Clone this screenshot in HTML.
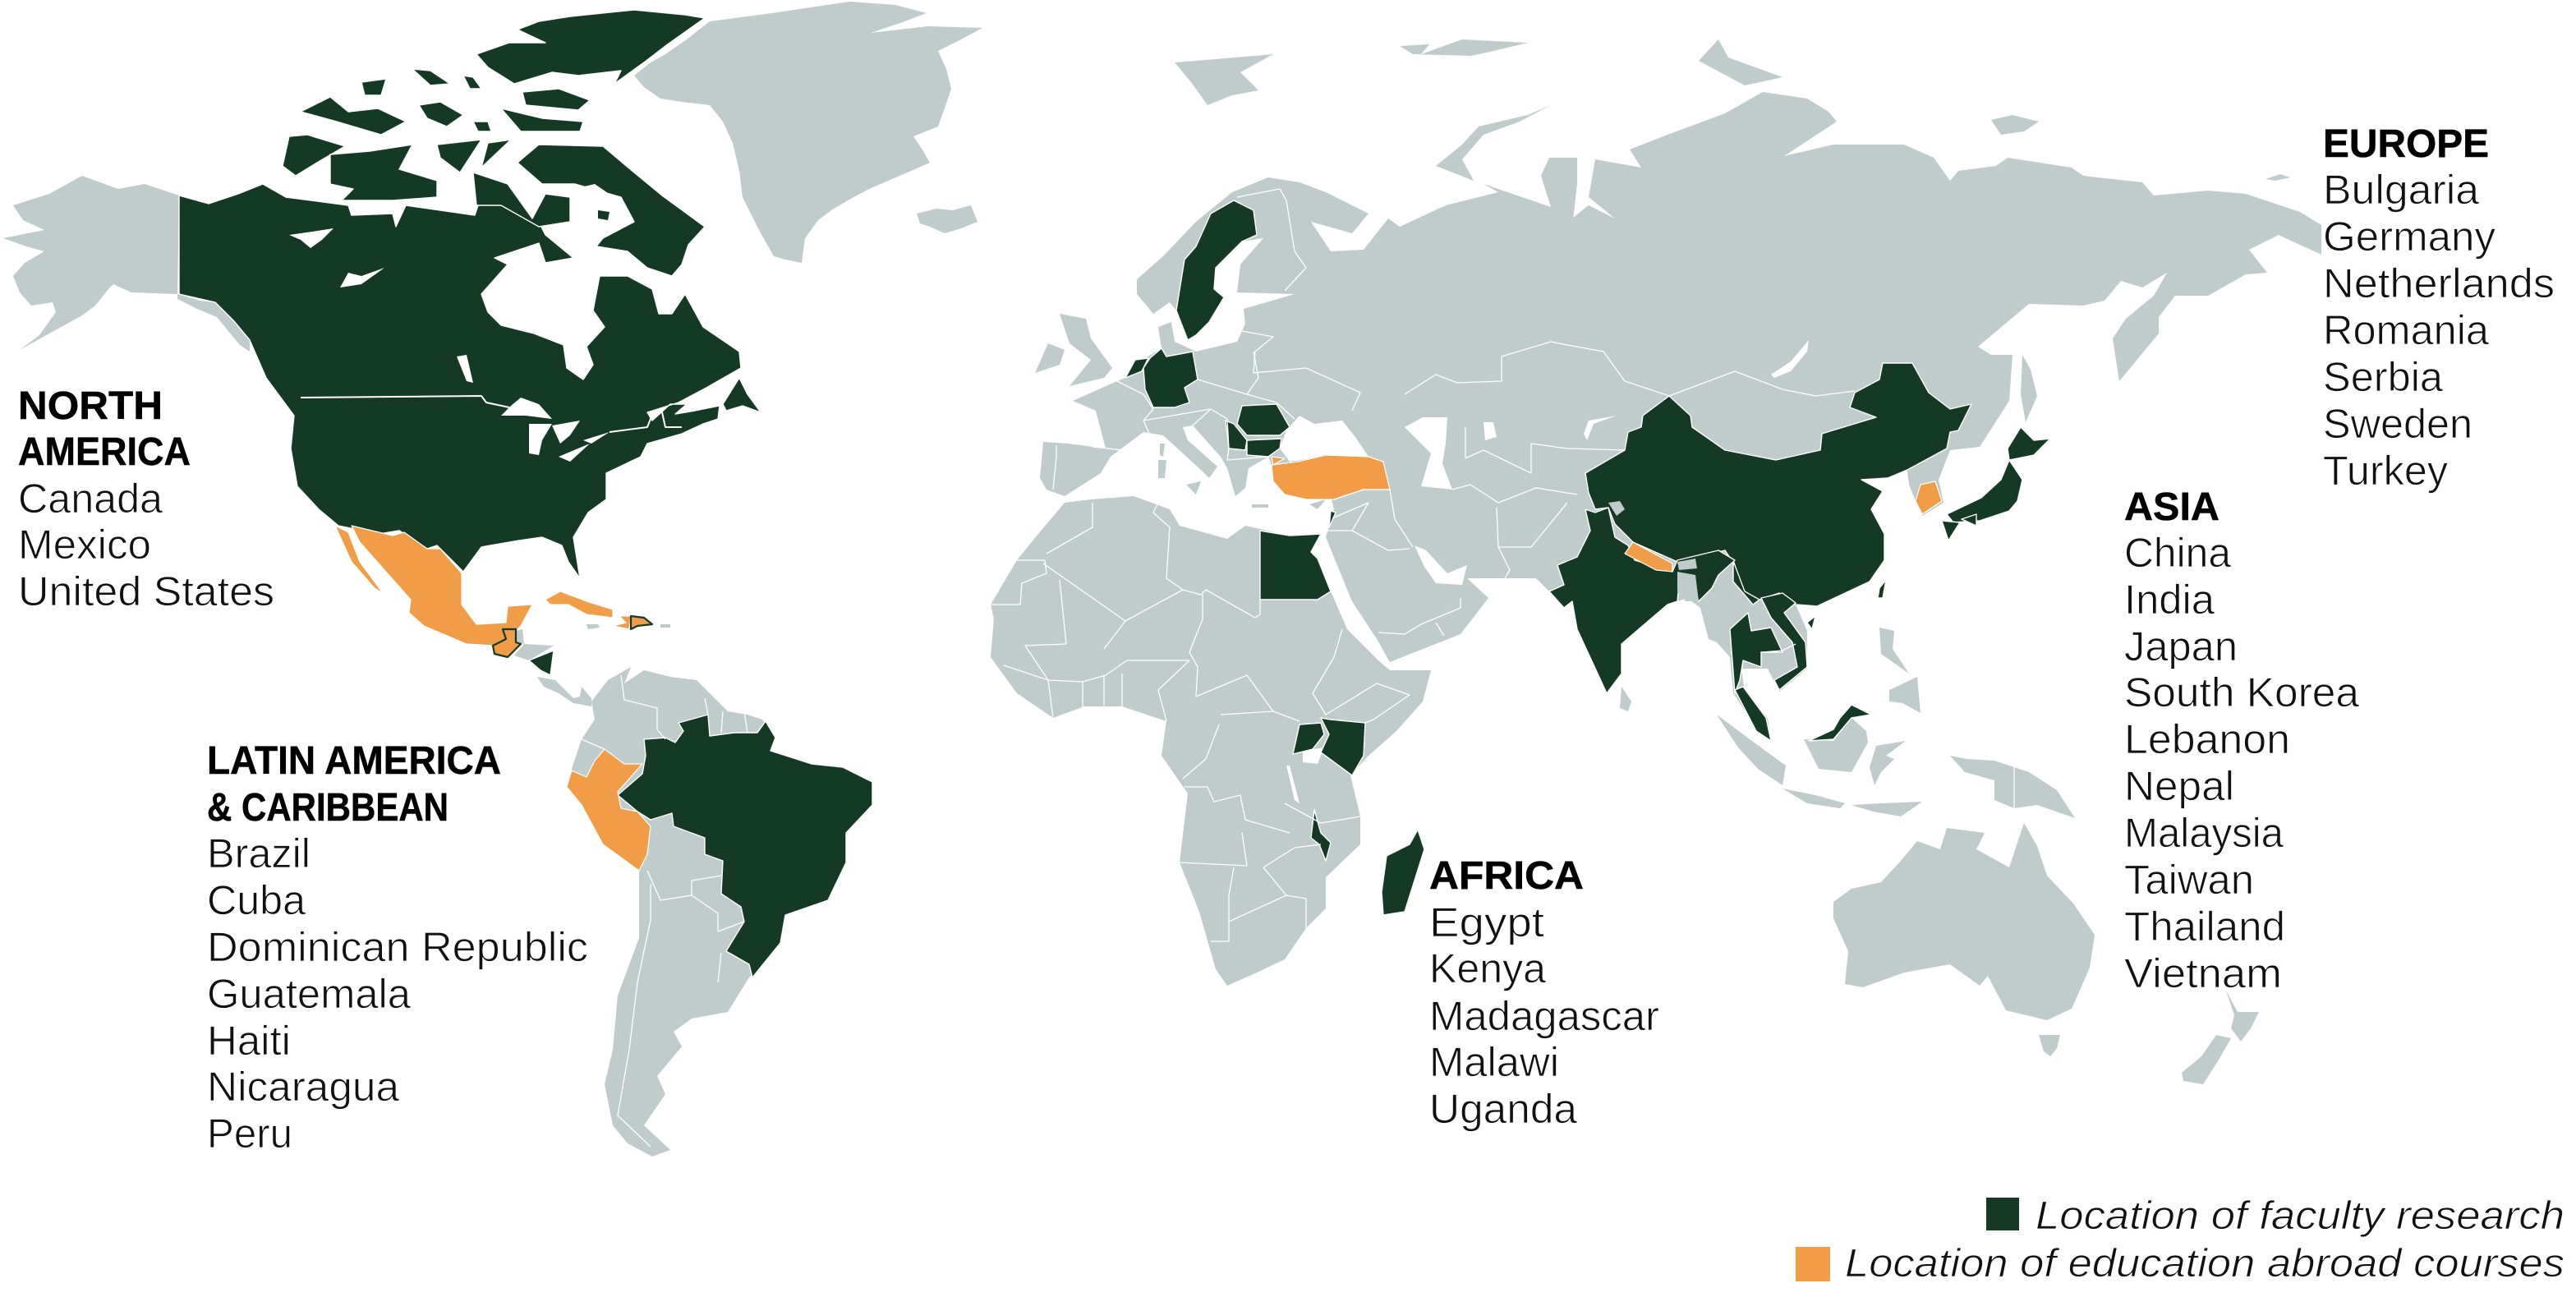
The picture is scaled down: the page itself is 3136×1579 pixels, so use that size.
<!DOCTYPE html>
<html lang="en">
<head>
<meta charset="utf-8">
<title>Faculty research and education abroad locations</title>
<style>
html,body{margin:0;padding:0;background:#fff;width:3136px;height:1579px;overflow:hidden}
svg{display:block}
.g polygon,.g path{fill:#bfcccb}
.w polygon{fill:#fff}
.d polygon{fill:#143a25;stroke:#fff;stroke-width:.7;stroke-linejoin:round}
.o polygon{fill:#f19d47;stroke:#fff;stroke-width:.6;stroke-linejoin:round}
.b polyline{fill:none;stroke:#fff;stroke-width:.65;stroke-linejoin:round}
text{font-family:"Liberation Sans",sans-serif;font-size:25px;fill:#111;stroke:#fff;stroke-width:.42px}
text.h{font-weight:bold;fill:#000;stroke:#000;stroke-width:.25px;font-size:24px}
text.l{font-style:italic;font-size:24px}
</style>
</head>
<body>
<svg xmlns="http://www.w3.org/2000/svg" width="3136" height="1579" viewBox="0 0 1568 789.5">
<rect width="1568" height="789.5" fill="#fff"/>

<g class="g">
<polygon points="109,119 88,112 72,115 50,107 30,118 8,125 14,134 27,140 2,145 16,150 27,153 15,160 8,168 12,178 19,186 32,184 34,190 24,204 12,213 30,203 50,192 58,186 66,176 69,173 80,178 108,179 122,183 131,184 142,195 152,207 152,214 146,210 132,193 120,188 108,182"/>
<polygon points="432,13 470,8 517,1 545,3 564,8 548,14 530,20 565,16 598,17 585,24 571,31 576,42 579,54 575,66 571,77 556,83 562,92 566,99 550,106 529,115 516,122 506,128 498,134 490,145 488,160 478,158 471,156 462,140 452,120 450,104 446,87 440,74 432,64 415,62 402,60 392,53 386,46 396,38 405,33 418,24"/>
<polygon points="558,130 570,127 580,128 591,125 595,135 585,139 575,142 566,138 560,136"/>
<polygon points="360,427 370,414 384,406 380,416 392,408 408,412 424,414 434,424 443,433 455,435 464,438 472,449 469,457 494,465 513,467 531,476 531,490 515,507 515,525 504,548 478,557 475,574 456,595 443,616 421,620 410,628 415,637 400,655 405,666 392,685 408,700 397,704 382,696 373,685 368,660 373,639 376,606 389,571 389,528 367,514 354,490 345,479 348,468 354,450 362,438"/>
<polygon points="313,399 319,392 314,391 314,384 318,383 319,392 337,393 322,402"/>
<polygon points="327,412 338,414 349,425 353,424 354,418 360,425 360,430 349,428 340,422 331,418"/>
<polygon points="357,380 364,380 365,382 358,383"/>
<polygon points="402,380 408,380 408,382 402,382"/>
<polygon points="633,291 635,269 650,270 673,273 667,250 653,244 680,232 685,230 697,218 707,212 705,199 713,196 715,208 728,214 753,208 758,197 757,188 788,179 753,178 755,161 769,145 756,147 740,163 739,176 745,181 736,196 728,204 723,207 716,189 712,184 702,191 692,179 692,170 708,156 728,135 750,117 772,108 791,111 807,117 833,130 823,142 798,135 810,153 830,152 845,133 852,138 880,125 912,117 903,112 944,126 938,107 943,96 960,96 960,112 957,138 948,140 967,125 983,133 967,120 971,97 999,102 992,91 1015,82 1050,69 1073,56 1100,60 1113,68 1118,74 1086,95 1116,88 1159,88 1177,96 1187,110 1192,104 1215,101 1222,96 1261,102 1268,107 1304,111 1311,119 1344,116 1367,118 1400,129 1413,137 1413,155 1387,143 1369,152 1380,166 1367,167 1344,180 1324,180 1314,193 1314,203 1290,232 1286,206 1294,194 1311,180 1319,166 1304,175 1291,171 1281,183 1268,186 1235,185 1204,211 1212,216 1225,216 1223,244 1205,272 1187,274 1180,292 1183,306 1170,314 1166,305 1162,295 1161,287 1149,282 1133,292 1146,299 1139,310 1147,325 1147,341 1138,354 1106,369 1093,368 1100,384 1100,394 1100,407 1083,421 1076,407 1066,407 1060,407 1062,421 1076,437 1078,451 1065,437 1055,422 1053,400 1045,391 1040,389 1035,370 1027,364 1021,366 1015,368 987,392 987,410 978,422 960,383 957,366 952,370 943,360 935,352 893,352 906,364 889,386 846,403 838,389 823,366 807,327 812,310 810,302 782,301 774,283 772,278 760,285 758,297 752,302 747,285 743,278 726,259 720,260 723,268 741,284 736,291 732,287 708,265 696,263 676,278 670,288 648,302 637,298"/>
<polygon points="648,306 664,304 690,302 712,310 718,320 747,328 758,320 785,326 804,325 798,336 810,360 820,383 839,402 846,408 871,408 866,427 850,445 833,460 822,472 828,497 828,514 807,534 807,553 795,565 782,584 765,592 747,600 740,590 730,555 718,525 723,483 707,460 710,439 683,430 660,430 641,437 619,422 603,400 605,377 603,368 619,341 632,325"/>
<polygon points="645,191 661,194 664,206 677,224 672,230 651,235 664,219 651,209"/>
<polygon points="638,209 648,213 645,222 630,227"/>
<polygon points="722,295 731,293 728,301"/>
<polygon points="705,280 710,280 709,291 705,291"/>
<polygon points="706,270 709,270 708,278 706,277"/>
<polygon points="762,307 772,307 772,309 762,309"/>
<polygon points="797,307 807,304 802,310"/>
<polygon points="715,38 740,36 775,33 755,44 766,55 750,58 735,64 725,50"/>
<polygon points="852,28 870,27 865,33 890,24 930,26 905,32 895,34 860,33"/>
<polygon points="944,64 930,70 900,77 890,88 874,101 897,110 890,97 903,82 925,74"/>
<polygon points="1046,24 1052,35 1085,47 1062,52 1034,37"/>
<polygon points="1212,73 1225,70 1241,74 1232,80 1218,82"/>
<polygon points="1379,109 1388,106 1394,108 1385,110"/>
<polygon points="1231,216 1236,225 1240,241 1233,257 1230,240"/>
<polygon points="987,418 993,427 991,433 986,431"/>
<polygon points="1144,382 1153,384 1152,395 1162,410 1145,398"/>
<polygon points="1150,420 1167,412 1169,434 1158,428 1150,427"/>
<polygon points="1098,450 1116,451 1127,437 1136,445 1137,452 1127,470 1107,468"/>
<polygon points="1045,435 1065,450 1087,466 1085,478 1070,468 1058,455"/>
<polygon points="1085,480 1105,484 1123,489 1120,492 1100,489"/>
<polygon points="1127,490 1145,489 1170,488 1157,497 1140,494"/>
<polygon points="1138,467 1142,454 1160,451 1148,460 1153,462 1145,470 1141,478"/>
<polygon points="1187,460 1197,462 1214,463 1235,470 1252,481 1263,498 1240,490 1226,492 1214,487 1214,475 1196,470"/>
<polygon points="1116,549 1127,541 1145,537 1157,524 1167,512 1181,517 1185,504 1208,507 1203,517 1223,528 1232,501 1240,515 1246,533 1262,550 1275,569 1272,589 1261,614 1246,621 1221,615 1210,594 1205,600 1187,587 1159,592 1134,601 1123,599 1125,579 1116,559"/>
<polygon points="1241,630 1254,630 1252,638 1248,643 1244,640"/>
<polygon points="1355,603 1362,616 1375,616 1370,626 1364,634 1358,626 1360,618"/>
<polygon points="1349,630 1358,632 1350,646 1341,660 1329,658 1328,653 1340,643"/>
</g>

<g class="w">
<polygon points="779,273 783,262 791,253 800,258 817,256 825,266 833,278 815,278 804,278 785,281"/>
<polygon points="855,260 866,254 881,254 880,270 878,282 884,298 865,296 871,276"/>
<polygon points="903,257 909,257 911,266 904,268"/>
<polygon points="861,332 868,335 881,349 893,344 890,356 874,355 867,345"/>
<polygon points="1078,228 1090,220 1101,207 1100,214 1090,226 1080,230"/>
<polygon points="964,264 967,256 984,253 970,258 966,268"/>
<polygon points="793,457 806,455 802,465 793,464"/>
<polygon points="783,466 785,466 791,489 788,487"/>
</g>

<g class="d">
<polygon points="109,119 127,124 145,118 160,112 174,120 212,125 214,131 239,130 241,138 247,125 289,131 293,119 305,120 328,135 332,143 349,157 332,160 328,148 301,157 309,161 293,179 297,190 305,198 325,203 343,210 345,224 355,231 361,222 357,211 368,199 361,189 365,168 382,168 397,176 401,191 409,191 417,179 428,199 450,214 451,224 430,236 413,245 394,251 397,256 408,246 418,246 411,252 423,250 438,247 437,255 428,258 415,264 394,270 390,278 369,288 369,304 358,312 349,327 353,352 346,342 342,332 330,327 316,329 293,333 282,348 266,332 260,334 243,323 231,325 206,320 194,310 181,296 177,273 179,253 162,230 152,207 142,195 131,184 109,179"/>
<polygon points="440,246 450,230 455,240 463,251 452,247 442,250"/>
<polygon points="429,11 417,9 386,6 347,10 328,13 315,18 332,26 310,26 290,33 297,41 313,51 336,44 352,46 378,43 374,51 392,38 405,28"/>
<polygon points="318,56 340,54 359,61 352,67 320,64"/>
<polygon points="305,66 330,72 355,74 353,80 317,80"/>
<polygon points="183,68 201,59 212,68 230,66 247,74 232,82 205,74"/>
<polygon points="251,42 262,43 274,51 262,52"/>
<polygon points="282,46 288,47 293,54 286,54"/>
<polygon points="220,50 235,48 232,58 222,58"/>
<polygon points="255,64 268,62 282,70 272,77 260,72"/>
<polygon points="288,74 297,74 299,80 291,80"/>
<polygon points="176,83 187,82 210,89 193,99 180,107 172,101"/>
<polygon points="201,94 225,92 251,88 243,103 266,110 266,120 239,122 208,122 215,115 201,112"/>
<polygon points="266,88 293,85 280,105 268,96"/>
<polygon points="297,87 311,85 293,102"/>
<polygon points="315,99 328,88 367,89 386,105 403,119 429,138 419,149 415,161 409,168 394,163 382,153 363,150 367,145 386,135 378,120 350,112 330,112"/>
<polygon points="288,105 309,112 324,133 332,118 347,120 347,135 328,138 305,125 290,125"/>
<polygon points="965,288 989,274 991,263 999,260 1000,253 1016,241 1029,253 1030,260 1050,274 1081,280 1108,274 1109,264 1142,254 1126,248 1129,239 1144,231 1146,221 1164,221 1174,239 1187,249 1200,246 1192,262 1187,263 1185,273 1161,286 1149,291 1133,292 1146,299 1139,310 1147,325 1147,341 1138,354 1106,369 1093,368 1083,361 1071,365 1067,368 1055,354 1055,341 1056,344 1050,335 1037,338 1021,342 994,330 983,319 979,309 971,310 967,300"/>
<polygon points="965,310 971,312 979,309 983,327 991,332 995,341 1018,348 1021,341 1046,335 1056,341 1046,350 1042,358 1034,366 1031,358 1022,356 1021,366 1015,368 987,392 987,410 978,422 960,383 957,366 952,370 943,360 952,356 948,344 960,339 968,323"/>
<polygon points="1072,364 1085,361 1093,367 1086,373 1099,391 1100,406 1083,420 1080,414 1094,406 1091,391 1078,376"/>
<polygon points="1053,383 1064,373 1066,384 1078,382 1085,397 1072,397 1072,406 1061,402 1059,414 1056,422"/>
<polygon points="1056,420 1061,418 1075,437 1078,451 1069,445"/>
<polygon points="1101,451 1116,444 1120,437 1127,429 1139,435 1127,437 1116,450"/>
<polygon points="1230,260 1238,268 1248,267 1238,277 1223,280 1222,273"/>
<polygon points="1223,280 1231,292 1228,305 1223,311 1205,317 1189,318 1185,313 1206,303 1218,292"/>
<polygon points="1182,317 1193,318 1186,329"/>
<polygon points="1194,316 1203,313 1203,320"/>
<polygon points="1148,353 1146,364 1143,364 1144,358"/>
<polygon points="1100,379 1105,375 1103,383"/>
<polygon points="392,450 405,449 411,452 416,445 413,440 431,435 432,448 447,446 461,446 466,439 472,449 469,457 494,465 513,467 531,476 531,490 515,507 515,525 504,548 478,557 475,574 458,595 456,587 442,579 453,561 451,552 439,544 440,524 429,520 429,510 410,503 409,495 396,499 388,494 376,484 391,471 393,460"/>
<polygon points="322,402 337,396 335,411 329,408"/>
<polygon points="751,122 763,128 765,143 756,147 740,163 739,176 745,181 736,196 728,204 723,207 716,189 721,158 728,150 737,130"/>
<polygon points="707,212 710,217 726,214 729,231 721,236 724,245 715,248 702,248 697,237 696,224 700,218"/>
<polygon points="691,219 699,218 695,226 685,230"/>
<polygon points="756,247 777,246 785,260 779,265 759,265 753,258"/>
<polygon points="746,256 751,258 759,268 758,274 748,273 747,264"/>
<polygon points="759,268 780,267 779,273 772,278 759,277"/>
<polygon points="810,311 813,312 809,321"/>
<polygon points="767,323 785,326 804,325 798,336 802,340 810,360 802,365 767,365"/>
<polygon points="791,441 804,440 806,447 799,456 787,459"/>
<polygon points="804,437 810,438 831,440 830,460 823,472 804,458 809,447"/>
<polygon points="800,493 804,507 810,513 807,524 803,514 798,510"/>
<polygon points="863,505 867,517 855,555 842,557 841,543 844,521 858,514"/>
</g>

<g class="g">
<polygon points="979,306 986,305 989,310 984,314"/>
<polygon points="1021,342 1032,340 1033,346 1022,347"/>
<polygon points="1021,348 1032,350 1034,366 1026,366 1021,360"/>
</g>

<g class="o">
<polygon points="214,320 239,326 246,324 260,334 268,334 281,349 281,368 290,380 308,379 309,369 324,368 317,381 314,384 306,383 308,389 300,393 284,392 258,381 249,373 250,365 219,330"/>
<polygon points="204,320 212,324 219,342 233,361 228,358 214,342"/>
<polygon points="332,365 341,360 357,366 373,371 373,376 357,374 346,368 335,368"/>
<polygon points="368,456 380,465 391,465 376,482 378,492 388,494 396,503 394,520 389,530 367,514 354,490 345,479 348,469 357,473 362,463"/>
<polygon points="774,283 790,281 807,277 833,278 842,281 846,298 830,298 812,304 795,304 782,301 775,293"/>
<polygon points="774,278 782,279 775,283"/>
<polygon points="994,330 1018,343 1018,348 1008,347 989,337"/>
<polygon points="1169,295 1178,293 1182,305 1170,313 1166,305"/>
<polygon points="377,375 384,375 383,383 373,381 381,379"/>
<polygon style="stroke:#143a25;stroke-width:1.1" points="306,383 314,383 314,391 317,392 309,400 301,398 300,393 308,389"/>
<polygon style="stroke:#143a25;stroke-width:1.1" points="384,375 392,376 397,380 388,381 384,383"/>
</g>

<g class="w">
<polygon points="176,143 190,141 203,139 196,146 189,151 183,146"/>
<polygon points="207,175 212,166 220,168 234,163 220,173"/>
<polygon points="278,217 284,216 288,233 284,232"/>
<polygon points="305,253 311,247 317,242 328,246 336,255 320,253"/>
<polygon points="322,258 336,258 330,268 328,277 322,276"/>
<polygon points="336,259 353,256 347,265 341,270"/>
<polygon points="340,278 359,270 347,281"/>
<polygon points="355,268 371,263 360,270"/>
<polygon points="345,116 362,112 378,123 386,135 367,145 352,135"/>
<polygon points="349,157 365,151 382,153 394,163 382,168 365,168"/>
</g>
<polygon fill="#143a25" points="364,128 371,129 370,134 364,133"/>

<g class="b">
<polyline style="stroke-width:1" points="183,242 293,241 296,245 310,248"/>
<polyline style="stroke-width:1" points="371,263 394,260 398,250 403,251 405,260 415,260"/>
<polyline points="603,368 621,368 622,355 637,349 636,341 619,341"/>
<polyline points="635,343 685,378 720,359 731,362 734,359 764,376 767,374 767,365"/>
<polyline points="645,353 649,392 624,393 638,414 659,415 673,411 686,402 724,402"/>
<polyline points="712,321 710,352 720,359"/>
<polyline points="705,306 702,312 712,321"/>
<polyline points="665,306 665,321 637,337"/>
<polyline points="732,362 732,377 724,397 729,406 728,424 759,411 775,433"/>
<polyline points="817,383 812,400 799,422 807,435 838,416"/>
<polyline points="838,416 858,423 836,438 831,440"/>
<polyline points="743,435 775,433 791,439"/>
<polyline points="742,441 734,462 720,474"/>
<polyline points="721,479 735,479 739,488 755,484 758,499 785,507"/>
<polyline points="718,525 759,527 756,507"/>
<polyline points="769,528 788,516 804,514"/>
<polyline points="751,528 748,545 748,573 737,573"/>
<polyline points="748,561 783,545 769,528"/>
<polyline points="783,545 795,547 795,566"/>
<polyline points="828,497 804,501 782,489"/>
<polyline points="659,433 659,415"/>
<polyline points="672,432 672,411"/>
<polyline points="683,430 683,410"/>
<polyline points="672,395 685,378"/>
<polyline points="710,439 705,420 724,402"/>
<polyline points="611,405 638,414 641,437"/>
<polyline points="764,214 763,227 795,224 828,239 823,250"/>
<polyline points="855,240 874,228 887,233 914,232 914,217 944,208 954,210 976,214 989,232 1016,241"/>
<polyline points="1016,241 1056,226 1085,237 1105,241 1129,238"/>
<polyline points="892,260 892,279 903,274 932,288 932,270 954,273 989,274"/>
<polyline points="884,298 895,295 912,306 935,297 960,301"/>
<polyline points="911,309 912,333 932,333 954,306"/>
<polyline points="912,333 919,347 916,352"/>
<polyline points="846,298 849,316 860,333"/>
<polyline points="807,323 823,323 845,335 858,334"/>
<polyline points="812,304 830,298"/>
<polyline points="812,315 833,306 823,323"/>
<polyline points="839,385 855,386 865,380 889,370 889,364"/>
<polyline points="874,379 879,387"/>
<polyline points="680,232 696,240 702,249 696,256 700,265"/>
<polyline points="643,271 643,278 641,298"/>
<polyline points="665,272 683,274"/>
<polyline points="696,256 737,249 726,259"/>
<polyline points="729,231 759,240 766,230 763,214"/>
<polyline points="753,201 775,205 764,214"/>
<polyline points="759,240 777,245 788,255"/>
<polyline points="783,122 788,153 795,163 782,177"/>
<polyline points="753,120 779,115 783,122"/>
<polyline points="737,249 747,255 748,273 747,280 772,278"/>
<polyline points="1056,344 1062,360 1071,365"/>
<polyline points="1073,397 1085,396 1093,392"/>
<polyline points="378,411 380,426 400,431 400,444 405,450"/>
<polyline points="354,450 368,456"/>
<polyline points="429,425 431,435"/>
<polyline points="440,433 439,446"/>
<polyline points="453,433 455,446"/>
<polyline points="394,530 402,548 421,545 421,536 439,533"/>
<polyline points="421,545 437,556 437,567 453,561"/>
<polyline points="396,538 396,560 388,598 383,639 376,679 396,698"/>
<polyline points="439,580 437,598"/>
<polyline points="1226,466 1226,492"/>
</g>

<g>
<text class="h" x="11" y="255" textLength="88" lengthAdjust="spacingAndGlyphs">NORTH</text>
<text class="h" x="11" y="283" textLength="105" lengthAdjust="spacingAndGlyphs">AMERICA</text>
<text x="11" y="312" textLength="88" lengthAdjust="spacingAndGlyphs">Canada</text>
<text x="11" y="340" textLength="81" lengthAdjust="spacingAndGlyphs">Mexico</text>
<text x="11" y="368.5" textLength="156" lengthAdjust="spacingAndGlyphs">United States</text>
</g>

<g>
<text class="h" x="126" y="471" textLength="179" lengthAdjust="spacingAndGlyphs">LATIN AMERICA</text>
<text class="h" x="126" y="499.5" textLength="147" lengthAdjust="spacingAndGlyphs">&amp; CARIBBEAN</text>
<text x="126" y="528" textLength="63" lengthAdjust="spacingAndGlyphs">Brazil</text>
<text x="126" y="556.5" textLength="60" lengthAdjust="spacingAndGlyphs">Cuba</text>
<text x="126" y="585" textLength="232" lengthAdjust="spacingAndGlyphs">Dominican Republic</text>
<text x="126" y="613.5" textLength="124" lengthAdjust="spacingAndGlyphs">Guatemala</text>
<text x="126" y="642" textLength="51" lengthAdjust="spacingAndGlyphs">Haiti</text>
<text x="126" y="670" textLength="117" lengthAdjust="spacingAndGlyphs">Nicaragua</text>
<text x="126" y="698.5" textLength="52" lengthAdjust="spacingAndGlyphs">Peru</text>
</g>

<g>
<text class="h" x="870" y="541" textLength="94" lengthAdjust="spacingAndGlyphs">AFRICA</text>
<text x="870" y="570" textLength="70" lengthAdjust="spacingAndGlyphs">Egypt</text>
<text x="870" y="598" textLength="71" lengthAdjust="spacingAndGlyphs">Kenya</text>
<text x="870" y="627" textLength="140" lengthAdjust="spacingAndGlyphs">Madagascar</text>
<text x="870" y="655" textLength="79" lengthAdjust="spacingAndGlyphs">Malawi</text>
<text x="870" y="683.5" textLength="90" lengthAdjust="spacingAndGlyphs">Uganda</text>
</g>

<g>
<text class="h" x="1293" y="316.5" textLength="58" lengthAdjust="spacingAndGlyphs">ASIA</text>
<text x="1293" y="345" textLength="65" lengthAdjust="spacingAndGlyphs">China</text>
<text x="1293" y="373.5" textLength="55" lengthAdjust="spacingAndGlyphs">India</text>
<text x="1293" y="402" textLength="69" lengthAdjust="spacingAndGlyphs">Japan</text>
<text x="1293" y="430" textLength="143" lengthAdjust="spacingAndGlyphs">South Korea</text>
<text x="1293" y="458.5" textLength="101" lengthAdjust="spacingAndGlyphs">Lebanon</text>
<text x="1293" y="487" textLength="67" lengthAdjust="spacingAndGlyphs">Nepal</text>
<text x="1293" y="515.5" textLength="97" lengthAdjust="spacingAndGlyphs">Malaysia</text>
<text x="1293" y="544" textLength="79" lengthAdjust="spacingAndGlyphs">Taiwan</text>
<text x="1293" y="572.5" textLength="98" lengthAdjust="spacingAndGlyphs">Thailand</text>
<text x="1293" y="601" textLength="96" lengthAdjust="spacingAndGlyphs">Vietnam</text>
</g>

<g>
<text class="h" x="1414" y="95.5" textLength="101" lengthAdjust="spacingAndGlyphs">EUROPE</text>
<text x="1414" y="124" textLength="95" lengthAdjust="spacingAndGlyphs">Bulgaria</text>
<text x="1414" y="152.5" textLength="105" lengthAdjust="spacingAndGlyphs">Germany</text>
<text x="1414" y="181" textLength="141" lengthAdjust="spacingAndGlyphs">Netherlands</text>
<text x="1414" y="209.5" textLength="101" lengthAdjust="spacingAndGlyphs">Romania</text>
<text x="1414" y="238" textLength="73" lengthAdjust="spacingAndGlyphs">Serbia</text>
<text x="1414" y="266.5" textLength="91" lengthAdjust="spacingAndGlyphs">Sweden</text>
<text x="1414" y="295" textLength="76" lengthAdjust="spacingAndGlyphs">Turkey</text>
</g>

<g>
<rect x="1209" y="729" width="20" height="20" fill="#143a25"/>
<text class="l" x="1239" y="748" textLength="322" lengthAdjust="spacingAndGlyphs">Location of faculty research</text>
<rect x="1093" y="759" width="21" height="21" fill="#f19d47"/>
<text class="l" x="1123" y="777" textLength="438" lengthAdjust="spacingAndGlyphs">Location of education abroad courses</text>
</g>
</svg>
</body>
</html>
